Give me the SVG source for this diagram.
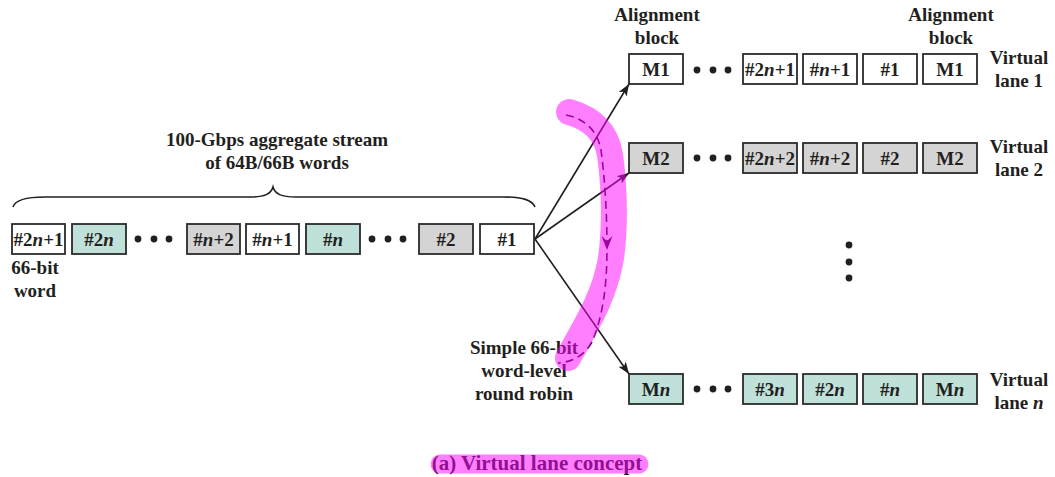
<svg xmlns="http://www.w3.org/2000/svg" width="1055" height="477" viewBox="0 0 1055 477">
  <style>
    .t { font-family: "Liberation Serif", "Times New Roman", serif; font-weight: bold; font-size: 19px; fill: #231f20; text-anchor: middle; }
    .cap { font-size: 21px; }
    .i { font-style: italic; }
    .box { stroke: #2b2b2b; stroke-width: 1.8; }
    .w { fill: #ffffff; }
    .g { fill: #d4d4d4; }
    .c { fill: #c0e1d9; }
    .dot { fill: #231f20; }
    .arrow { stroke: #231f20; stroke-width: 1.6; fill: none; marker-end: url(#head); }
    .hl { fill: none; stroke: #ff00ff; stroke-opacity: 0.5; stroke-linecap: round; stroke-linejoin: round; }
  </style>
  <defs>
    <marker id="head" markerUnits="userSpaceOnUse" markerWidth="14" markerHeight="10" refX="12" refY="4.5" orient="auto">
      <path d="M0,0 L12,4.5 L0,9 L3,4.5 z" fill="#231f20"/>
    </marker>
    <g id="dots3">
      <circle cx="0" cy="0" r="3.4" class="dot"/>
      <circle cx="16" cy="0" r="3.4" class="dot"/>
      <circle cx="31" cy="0" r="3.4" class="dot"/>
    </g>
  </defs>

  <rect width="1055" height="477" fill="#ffffff"/>

  <!-- aggregate stream brace and label -->
  <g id="stream-label">
    <text class="t" x="277" y="146">100-Gbps aggregate stream</text>
    <text class="t" x="277" y="169">of 64B/66B words</text>
    <path d="M13,207 C15,200 25,197 45,197 L250,197 C265,197 271,194 273,187 C275,194 281,197 296,197 L503,197 C523,197 532,200 535,207" fill="none" stroke="#231f20" stroke-width="1.6"/>
  </g>

  <!-- aggregate stream of 66-bit words -->
  <g id="stream">
    <g id="w-2n1"><rect class="box w" x="12" y="224" width="53" height="30"/><text class="t" x="38.5" y="245.5">#2<tspan class="i">n</tspan>+1</text></g>
    <g id="w-2n"><rect class="box c" x="72" y="224" width="54" height="30"/><text class="t" x="99" y="245.5">#2<tspan class="i">n</tspan></text></g>
    <use href="#dots3" x="138" y="239"/>
    <g id="w-n2"><rect class="box g" x="187" y="224" width="53" height="30"/><text class="t" x="213.5" y="245.5">#<tspan class="i">n</tspan>+2</text></g>
    <g id="w-n1"><rect class="box w" x="246" y="224" width="53" height="30"/><text class="t" x="272.5" y="245.5">#<tspan class="i">n</tspan>+1</text></g>
    <g id="w-n"><rect class="box c" x="306" y="224" width="54" height="30"/><text class="t" x="333" y="245.5">#<tspan class="i">n</tspan></text></g>
    <use href="#dots3" x="372" y="239"/>
    <g id="w-2"><rect class="box g" x="419" y="224" width="54" height="30"/><text class="t" x="446" y="245.5">#2</text></g>
    <g id="w-1"><rect class="box w" x="480" y="224" width="54" height="30"/><text class="t" x="507" y="245.5">#1</text></g>
    <text class="t" x="35" y="274">66-bit</text>
    <text class="t" x="35" y="297">word</text>
  </g>

  <!-- alignment block labels -->
  <g id="align-labels">
    <text class="t" x="657" y="21">Alignment</text>
    <text class="t" x="657" y="44">block</text>
    <text class="t" x="951" y="21">Alignment</text>
    <text class="t" x="951" y="44">block</text>
  </g>

  <!-- virtual lane 1 -->
  <g id="lane-1">
    <rect class="box w" x="629" y="54" width="54" height="30"/><text class="t" x="656" y="75.5">M1</text>
    <use href="#dots3" x="697" y="70"/>
    <rect class="box w" x="743" y="54" width="54" height="30"/><text class="t" x="770" y="75.5">#2<tspan class="i">n</tspan>+1</text>
    <rect class="box w" x="803" y="54" width="54" height="30"/><text class="t" x="830" y="75.5">#<tspan class="i">n</tspan>+1</text>
    <rect class="box w" x="863" y="54" width="54" height="30"/><text class="t" x="890" y="75.5">#1</text>
    <rect class="box w" x="923" y="54" width="54" height="30"/><text class="t" x="950" y="75.5">M1</text>
    <text class="t" x="1019" y="64">Virtual</text>
    <text class="t" x="1019" y="87">lane 1</text>
  </g>

  <!-- virtual lane 2 -->
  <g id="lane-2">
    <rect class="box g" x="629" y="143" width="54" height="30"/><text class="t" x="656" y="164.5">M2</text>
    <use href="#dots3" x="697" y="158"/>
    <rect class="box g" x="743" y="143" width="54" height="30"/><text class="t" x="770" y="164.5">#2<tspan class="i">n</tspan>+2</text>
    <rect class="box g" x="803" y="143" width="54" height="30"/><text class="t" x="830" y="164.5">#<tspan class="i">n</tspan>+2</text>
    <rect class="box g" x="863" y="143" width="54" height="30"/><text class="t" x="890" y="164.5">#2</text>
    <rect class="box g" x="923" y="143" width="54" height="30"/><text class="t" x="950" y="164.5">M2</text>
    <text class="t" x="1019" y="153">Virtual</text>
    <text class="t" x="1019" y="176">lane 2</text>
  </g>

  <!-- lanes in between -->
  <g id="lane-gap">
    <circle cx="849" cy="245" r="3.4" class="dot"/>
    <circle cx="849" cy="262" r="3.4" class="dot"/>
    <circle cx="849" cy="278" r="3.4" class="dot"/>
  </g>

  <!-- virtual lane n -->
  <g id="lane-n">
    <rect class="box c" x="629" y="374" width="54" height="30"/><text class="t" x="656" y="395.5">M<tspan class="i">n</tspan></text>
    <use href="#dots3" x="697" y="389"/>
    <rect class="box c" x="743" y="374" width="54" height="30"/><text class="t" x="770" y="395.5">#3<tspan class="i">n</tspan></text>
    <rect class="box c" x="803" y="374" width="54" height="30"/><text class="t" x="830" y="395.5">#2<tspan class="i">n</tspan></text>
    <rect class="box c" x="863" y="374" width="54" height="30"/><text class="t" x="890" y="395.5">#<tspan class="i">n</tspan></text>
    <rect class="box c" x="923" y="374" width="54" height="30"/><text class="t" x="950" y="395.5">M<tspan class="i">n</tspan></text>
    <text class="t" x="1019" y="386">Virtual</text>
    <text class="t" x="1019" y="409">lane <tspan class="i">n</tspan></text>
  </g>

  <!-- distribution connectors -->
  <g id="connectors">
    <path class="arrow" d="M535,239 L629,84"/>
    <path class="arrow" d="M535,239 L629,173"/>
    <path class="arrow" d="M535,239 L629,374"/>
  </g>

  <!-- round robin label and dashed sweep -->
  <g id="round-robin">
    <text class="t" x="524" y="354">Simple 66-bit</text>
    <text class="t" x="524" y="377">word-level</text>
    <text class="t" x="524" y="400">round robin</text>
    <path d="M566,115 C582,118 597,128 601,150 C605,180 607,215 607,248 C607,290 602,318 592,342 C584,356 572,362 558,363" fill="none" stroke="#3a0a40" stroke-width="1.6" stroke-dasharray="8,5"/>
    <path d="M601.5,236 L607,250 L612.5,236 L607,241 z" fill="#3a0a40"/>
  </g>

  <!-- caption -->
  <g id="caption">
    <text class="t cap" x="537" y="470">(a) Virtual lane concept</text>
  </g>

  <!-- highlighter marks -->
  <g id="highlights">
    <path class="hl" stroke-width="26" d="M569,112 C590,118 606,130 610,155 C615,190 615,230 611,258 C605,295 588,322 568,358"/>
    <path class="hl" stroke-width="19" d="M440,464 L639,464"/>
  </g>
</svg>
